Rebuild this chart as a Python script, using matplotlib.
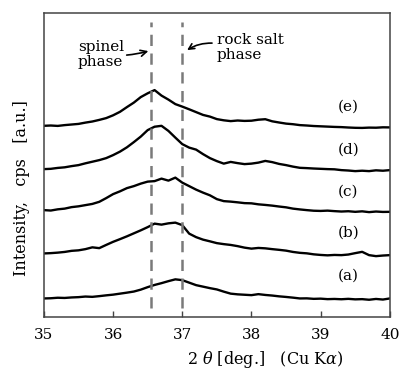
import numpy as np
import matplotlib.pyplot as plt

plt.rcParams['font.family'] = ['DejaVu Serif']
plt.rcParams['mathtext.fontset'] = 'dejavuserif'

#%% data (intensity in arbitrary units, curves already offset)
two_theta = np.round(np.arange(35.0, 40.05, 0.1), 1)

curve_a = [21.7, 21.9, 22.4, 22.2, 22.7, 23.0, 23.6, 23.3, 24.0, 24.8,
           25.5, 26.5, 27.5, 28.6, 30.5, 33.0, 35.2, 37.0, 39.0, 40.8,
           40.0, 37.5, 35.0, 33.5, 32.0, 30.7, 28.5, 26.5, 25.8, 25.4,
           25.0, 26.0, 25.2, 24.6, 23.8, 23.2, 22.5, 21.7, 21.8, 21.3,
           21.5, 21.0, 21.2, 20.9, 21.3, 20.8, 21.0, 20.4, 21.2, 20.6, 21.7]
curve_b = [66.7, 67.0, 67.5, 68.2, 69.3, 69.8, 71.0, 72.8, 72.0, 75.2,
           78.3, 81.0, 83.8, 86.8, 89.8, 93.0, 96.5, 95.5, 96.8, 97.5,
           95.0, 86.5, 83.0, 80.5, 78.8, 77.0, 76.0, 75.2, 74.0, 72.5,
           71.5, 72.2, 71.8, 71.0, 70.3, 69.5, 68.2, 67.3, 66.8, 65.8,
           65.2, 64.8, 65.2, 65.0, 65.6, 67.0, 68.3, 65.0, 64.0, 64.6, 65.0]
curve_c = [110.0, 109.6, 110.8, 111.5, 113.0, 113.8, 115.0, 116.2, 118.3, 122.0,
           126.0, 128.8, 132.0, 134.0, 136.5, 138.5, 139.0, 141.5, 139.5, 142.5,
           137.5, 134.0, 130.5, 127.5, 124.8, 121.0, 119.0, 118.5, 117.8, 117.0,
           116.8, 115.8, 115.2, 114.5, 113.6, 112.8, 111.5, 110.7, 110.0, 109.4,
           109.2, 109.5, 109.0, 108.6, 108.9, 108.3, 108.8, 108.0, 108.6, 108.2, 108.3]
curve_d = [151.0, 151.3, 152.2, 152.8, 154.0, 155.0, 156.8, 158.4, 160.0, 162.0,
           165.0, 168.5, 172.8, 178.0, 183.5, 190.0, 193.4, 194.3, 189.2, 182.5,
           176.0, 172.5, 170.5, 166.0, 162.0, 159.0, 156.5, 158.2, 157.0, 156.0,
           156.5, 157.5, 159.2, 158.0, 156.2, 155.0, 153.5, 152.3, 152.0, 151.6,
           151.3, 151.0, 150.8, 150.0, 149.6, 149.0, 149.4, 149.0, 149.8, 149.4, 150.0]
curve_e = [194.3, 194.6, 194.2, 195.0, 195.6, 196.2, 197.5, 198.6, 200.2, 202.0,
           204.8, 208.3, 213.0, 217.5, 223.0, 226.8, 230.0, 224.5, 220.5, 216.0,
           213.5, 210.8, 208.0, 205.2, 203.5, 201.0, 199.8, 199.0, 199.6, 199.2,
           199.4, 200.4, 200.9, 198.8, 197.6, 196.5, 195.9, 195.0, 194.6, 194.1,
           193.8, 193.5, 193.2, 193.0, 192.6, 192.3, 192.2, 192.5, 192.4, 192.8, 192.7]

labels = ['(a)', '(b)', '(c)', '(d)', '(e)']
label_y = [44, 87, 128, 170, 213]
spinel_pos = 36.55
rocksalt_pos = 37.0

#%% plot
fig = plt.figure(figsize=(3.99, 3.74), dpi=100)
ax = fig.add_axes([0.110, 0.152, 0.867, 0.813])

for c in [curve_a, curve_b, curve_c, curve_d, curve_e]:
    ax.plot(two_theta, c, color='k', lw=1.7)

for xv in [spinel_pos, rocksalt_pos]:
    ax.plot([xv, xv], [12, 298], color='#7a7a7a', lw=1.8, ls=(0, (4.5, 3)))

for lab, yv in zip(labels, label_y):
    ax.text(39.4, yv, lab, ha='center', va='center', fontsize=11)

ax.annotate('spinel\nphase', xy=(36.51, 269), xytext=(35.49, 280),
            ha='left', va='top', fontsize=11, linespacing=1.1,
            arrowprops=dict(arrowstyle='->', color='k', lw=1.2,
                            shrinkA=0, shrinkB=0,
                            connectionstyle='arc3,rad=0.1'))
ax.annotate('', xy=(37.07, 270), xytext=(37.43, 277),
            arrowprops=dict(arrowstyle='->', color='k', lw=1.2,
                            shrinkA=0, shrinkB=0,
                            connectionstyle='arc3,rad=0.15'))
ax.text(37.5, 287, 'rock salt\nphase', ha='left', va='top',
        fontsize=11, linespacing=1.1)

ax.set_xlim(35, 40)
ax.set_ylim(3, 307)
ax.set_xticks([35, 36, 37, 38, 39, 40])
ax.set_yticks([])
ax.tick_params(axis='x', direction='in', length=4, width=1, labelsize=11,
               pad=8, color='#444444')
for s in ax.spines.values():
    s.set_color('#444444')
    s.set_linewidth(1.1)

ax.set_xlabel(r'2 $\theta$ [deg.]   (Cu K$\alpha$)', fontsize=11.5)
ax.xaxis.set_label_coords(0.64, -0.105)
ax.set_ylabel('Intensity,   cps   [a.u.]', fontsize=11.5)
ax.yaxis.set_label_coords(-0.04, 0.424)

fig.savefig('out.png', dpi=100)
